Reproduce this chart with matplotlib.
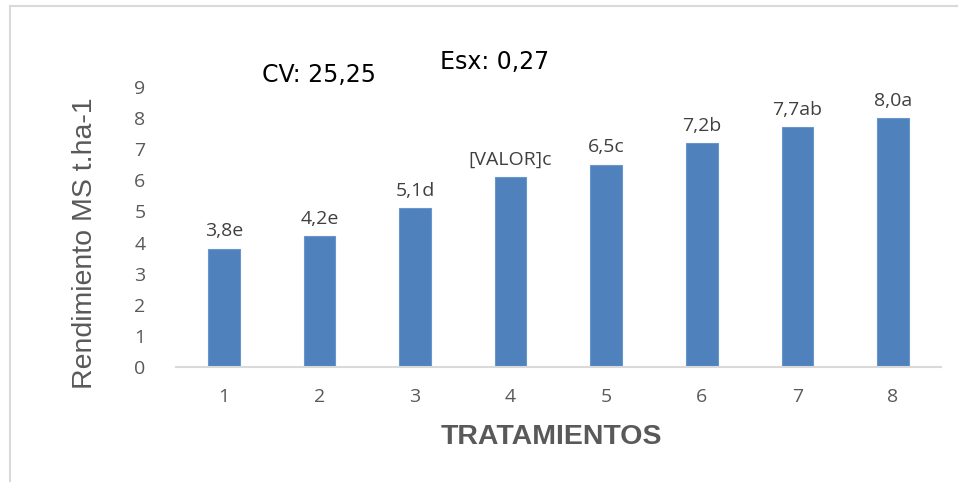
import matplotlib
matplotlib.use("Agg")
import matplotlib.pyplot as plt
from matplotlib.lines import Line2D

# Data
tratamientos = ["1", "2", "3", "4", "5", "6", "7", "8"]
rendimiento = [3.8, 4.2, 5.1, 6.1, 6.5, 7.2, 7.7, 8.0]
etiquetas = ["3,8e", "4,2e", "5,1d", "[VALOR]c", "6,5c", "7,2b", "7,7ab", "8,0a"]
y_ticks = [0, 1, 2, 3, 4, 5, 6, 7, 8, 9]

gray = "#595959"

fig = plt.figure(figsize=(9.58, 4.82), dpi=100)
ax = fig.add_axes([0.1837, 0.2386, 0.7983, 0.581])

x = range(len(tratamientos))
ax.bar(x, rendimiento, width=0.33, color="#4f81bd", edgecolor="#6a96cc", linewidth=0.8)

for xi, v, lab in zip(x, rendimiento, etiquetas):
    ax.annotate(lab, (xi, v), xytext=(0, 6), textcoords="offset points",
                ha="center", va="bottom", fontsize=14, color="#404040",
                family="Open Sans")

ax.set_xlim(-0.5, len(tratamientos) - 0.5)
ax.set_ylim(0, 9)
ax.set_yticks(y_ticks)
ax.set_xticks(list(x))
ax.set_xticklabels(tratamientos)

for s in ["top", "right", "left"]:
    ax.spines[s].set_visible(False)
ax.spines["bottom"].set_color("#d9d9d9")
ax.spines["bottom"].set_linewidth(1.5)
ax.tick_params(axis="both", length=0, labelsize=14, labelcolor=gray)
ax.tick_params(axis="x", pad=15)
ax.tick_params(axis="y", pad=22)
for t in ax.get_xticklabels() + ax.get_yticklabels():
    t.set_family("Open Sans")

ax.set_ylabel("Rendimiento MS t.ha-1", fontsize=20.5, color=gray,
              family="Liberation Sans", va="center")
ax.yaxis.set_label_coords(-0.119, 0.443)
ax.set_xlabel("TRATAMIENTOS", fontsize=20.5, color=gray, fontweight="bold",
              family="Liberation Sans", va="center")
ax.xaxis.set_label_coords(0.4915, -0.25)

fig.text(0.274, 0.845, "CV: 25,25", fontsize=17, color="black",
         family="DejaVu Sans", va="center")
fig.text(0.459, 0.872, "Esx: 0,27", fontsize=17, color="black",
         family="DejaVu Sans", va="center")

# chart area border (only left and top visible)
fig.add_artist(Line2D([0.0105, 0.0105], [0, 0.988], color="#d9d9d9", lw=1.5,
                      transform=fig.transFigure))
fig.add_artist(Line2D([0.0105, 1.0], [0.988, 0.988], color="#d9d9d9", lw=1.5,
                      transform=fig.transFigure))

fig.savefig("out.png", dpi=100)
